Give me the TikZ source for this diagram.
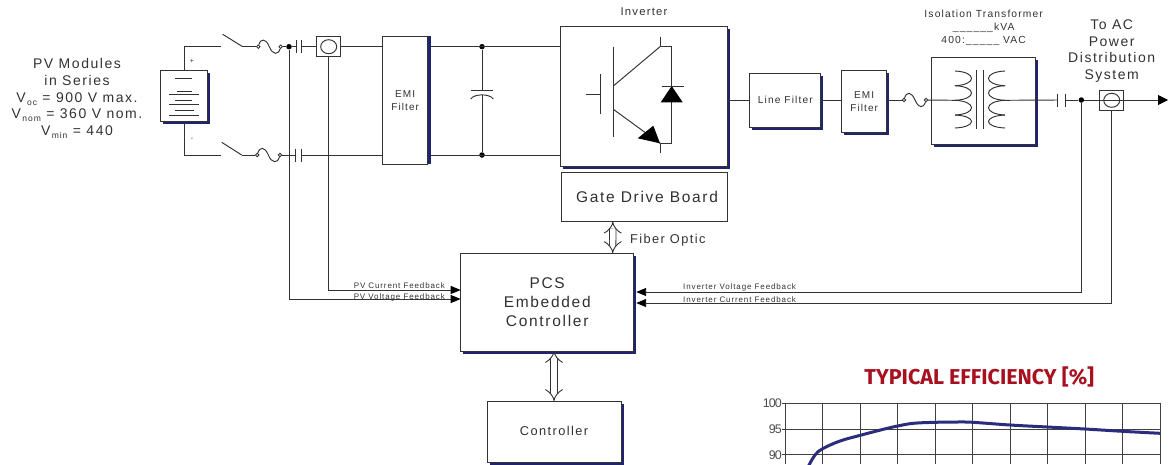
\documentclass[tikz,border=0pt]{standalone}
\usepackage{fontspec}
\setmainfont[LetterSpace=11]{Liberation Sans}
\newfontfamily\chartfont[LetterSpace=-8]{Liberation Sans}
\newfontfamily\headfont{Fira Sans}
\usepackage{tikz}
\definecolor{pvnavy}{RGB}{32,36,110}
\definecolor{pvcurve}{RGB}{43,44,124}
\definecolor{pvred}{RGB}{168,16,32}
\definecolor{pvwire}{RGB}{50,50,50}
\definecolor{pvtext}{RGB}{50,50,50}
\usetikzlibrary{arrows.meta,calc,shadows,shapes.geometric}
\newcommand{\subtxt}[1]{\smash{\raisebox{-3pt}{\fontsize{8.5}{8.5}\selectfont\,#1}}}
\tikzset{
  wire/.style={draw=pvwire, line width=0.95pt},
  feed/.style={wire, -{Triangle[length=10pt,width=8pt,fill=black,color=black]}},
  biarrow/.style={draw=pvwire, line width=0.9pt, double=white, double distance=5.5pt, {Implies}-{Implies}},
  pvbox/.style={draw=black!80, fill=white, line width=0.95pt, inner sep=0pt, outer sep=0pt, align=center, text=pvtext},
  navybox/.style={pvbox, general shadow={shadow xshift=2.5pt, shadow yshift=-2.5pt, fill=pvnavy, draw=none}},
  ctbox/.style={pvbox, minimum width=24pt, minimum height=20pt},
  ctring/.style={draw=black!80, ellipse, line width=0.95pt, inner sep=0pt, minimum width=16pt, minimum height=14pt},
  junction/.style={circle, fill=black, inner sep=0pt, minimum size=5.5pt},
  fuseend/.style={circle, draw=pvwire, fill=white, line width=0.8pt, inner sep=0pt, minimum size=3.5pt},
  lbl/.style={inner sep=0pt, align=center, text=pvtext},
  lblbig/.style={lbl, font=\fontsize{14}{16.6}\selectfont},
  lblmid/.style={lbl, font=\fontsize{11.3}{13}\selectfont},
  lbltiny/.style={lbl, font=\fontsize{8}{9}\selectfont},
  chartgrid/.style={draw=black!75, line width=0.95pt},
  charttick/.style={anchor=east, inner sep=0pt, text=black!70, font=\chartfont\fontsize{12.5}{14}\selectfont},
}
\begin{document}
\begin{tikzpicture}[x=1pt, y=-1pt]
  \useasboundingbox (0,0) rectangle (1172,464);

  % PV source side
  \node[lblbig] (pvtitle) at (77,97) {PV Modules\\in Series\\V\subtxt{oc} = 900 V max.\\V\subtxt{nom} = 360 V nom.\\V\subtxt{min} = 440};

  \node[navybox, minimum width=46.5pt, minimum height=51pt] (battery) at (184,95.5) {};
  \foreach \by/\bx/\bw in {78.7/175/17, 91/177/15, 94.7/169/30, 100/175/17, 104.7/169/30, 110.7/175/19, 115.3/169/30}
    \draw[wire] (\bx,\by) -- ++(\bw,0);
  \node[lbltiny, font=\fontsize{7}{7}\selectfont] (plus) at (192,61.7) {+};
  \node[lbltiny, font=\fontsize{7}{7}\selectfont] (minus) at (192,139) {-};

  % Main boxes
  \node[pvbox, minimum width=45pt, minimum height=128pt, font=\fontsize{10}{13}\selectfont] (emiA) at (405.2,100.2) {EMI\\Filter};
  \node[navybox, minimum width=166.7pt, minimum height=140.3pt] (inverter) at (644.3,96.8) {};
  \node[pvbox, minimum width=166.4pt, minimum height=49pt, font=\fontsize{15.5}{17}\selectfont] (gate) at (644.5,197.2) {\hspace{5pt}Gate Drive Board};
  \node[navybox, minimum width=173pt, minimum height=98pt, font=\fontsize{15.5}{19}\selectfont] (pcs) at (547.2,302) {PCS\\Embedded\\Controller};
  \node[navybox, minimum width=134pt, minimum height=61pt, font=\fontsize{12.8}{15}\selectfont] (ctrl) at (554,431.5) {\raisebox{2pt}{Controller}};
  \node[navybox, minimum width=70.7pt, minimum height=54pt, font=\fontsize{10.2}{12}\selectfont] (lineF) at (785.3,100.3) {Line Filter};
  \node[navybox, minimum width=45pt, minimum height=61.3pt, font=\fontsize{10}{13}\selectfont] (emiB) at (864.2,101.6) {EMI\\Filter};
  \node[navybox, minimum width=103.6pt, minimum height=87pt] (xfmr) at (983.5,100.8) {};

  % Current sensors
  \node[ctbox] (ctPV) at (328.7,46.7) {};
  \node[ctring] (ringPV) at (ctPV.center) {};
  \node[ctbox] (ctAC) at (1111.7,100.3) {};
  \node[ctring] (ringAC) at (ctAC.center) {};
  \draw[wire] (ctAC.west) -- (ctAC.east);

  % Junctions
  \node[junction] (dotPV) at (289,46.7) {};
  \node[junction] (dotCapT) at (482,46.7) {};
  \node[junction] (dotCapB) at (482,155) {};
  \node[junction] (dotAC) at (1081.3,100) {};

  % Fuses
  \foreach \name/\fa/\fb/\fy in {fuseT/258.3/280.7/46.7, fuseB/257.3/280/155, fuseR/904/926/100} {
    \node[fuseend] (\name L) at (\fa,\fy) {};
    \node[fuseend] (\name R) at (\fb,\fy) {};
    \draw[wire] (\name L) .. controls +(2.5,-8.5) and +(-3.5,-8.5) .. ++(11,0) .. controls +(3.5,8.5) and +(-2.5,8.5) .. (\name R);
  }

  % Switches
  \coordinate (swTa) at (220.7,46.7);
  \coordinate (swTb) at (242.7,46.7);
  \coordinate (swTc) at (222.7,34.3);
  \coordinate (swBa) at (220.7,155);
  \coordinate (swBb) at (241.7,155);
  \coordinate (swBc) at (221.7,142.3);
  \draw[wire] (swTc) -- (swTb);
  \draw[wire] (swBc) -- (swBb);

  % DC wiring
  \draw[wire] (battery.north) |- (swTa);
  \draw[wire] (battery.south) |- (swBa);
  \draw[wire] (swTb) -- (fuseTL);
  \draw[wire] (swBb) -- (fuseBL);
  \draw[wire] (fuseTR) -- (dotPV);

  % Series capacitors
  \coordinate (capTa) at (296,46.7);
  \coordinate (capTb) at (301,46.7);
  \coordinate (capBa) at (295.7,155);
  \coordinate (capBb) at (301,155);
  \coordinate (capRa) at (1057.7,100);
  \coordinate (capRb) at (1065,100);
  \foreach \cp in {capTa,capTb,capBa,capBb,capRa,capRb}
    \draw[wire] ([yshift=6.5pt]\cp) -- ([yshift=-6.5pt]\cp);
  \draw[wire] (dotPV) -- (capTa);
  \draw[wire] (capTb) -- (ctPV.west);
  \draw[wire] (fuseBR) -- (capBa);
  \draw[wire] (ctPV.east) -- (emiA.west |- ctPV.east);
  \draw[wire] (capBb) -- (emiA.west |- capBb);
  \draw[wire] (emiA.east |- dotCapT) -- (inverter.west |- dotCapT);
  \draw[wire] (emiA.east |- dotCapB) -- (inverter.west |- dotCapB);
  \fill[pvnavy] (emiA.north east) rectangle ++(3,128);

  % DC link capacitor
  \coordinate (linkA) at (482,90);
  \coordinate (linkB) at (482,95);
  \draw[wire] (dotCapT) -- (linkA);
  \draw[wire] (linkB) -- (dotCapB);
  \draw[wire] (470.7,90) -- (493.3,90);
  \draw[wire] (470.7,99) .. controls (474,93.5) and (490,93.5) .. (493.3,99);

  % IGBT and diode
  \draw[wire] (613.3,46.7) -- (613.3,137.3);
  \draw[wire] (600,74) -- (600,114);
  \draw[wire] (585.7,94) -- (600,94);
  \draw[wire] (613.3,86) -- (660,46.7);
  \draw[wire] (613.3,109.3) -- (660,143.3);
  \draw[wire] (660,37.3) -- (660,46.7) -- (671.7,46.7) -- (671.7,143.3) -- (660,143.3) -- (660,152.7);
  \fill[black] (660,143.3) -- (637.7,138.3) -- (653.3,125.7) -- cycle;
  \fill[black] (671.7,86) -- (660.7,102.3) -- (682.7,102.3) -- cycle;
  \draw[wire] (661.7,86) -- (684,86);

  % Transformer
  \draw[wire] (976,70) -- (976,129.3);
  \draw[wire] (983.3,70) -- (983.3,129.3);
  \foreach \cy/\ch in {71/14.7,85.7/14.6,100.3/14.7,115/13} {
    \draw[wire] (955,\cy) .. controls (977,\cy+1) and (977,\cy+\ch-1) .. (955,\cy+\ch);
    \draw[wire] (1005,\cy) .. controls (983,\cy+1) and (983,\cy+\ch-1) .. (1005,\cy+\ch);
  }
  \coordinate (coilL) at (955,100.3);
  \coordinate (coilR) at (1005,100.3);

  % AC wiring
  \draw[wire] (inverter.east |- lineF.west) -- (lineF.west);
  \draw[wire] (lineF.east) -- (emiB.west |- lineF.east);
  \draw[wire] (emiB.east |- fuseRL) -- (fuseRL);
  \draw[wire] (fuseRR) -- (coilL);
  \draw[wire] (coilR) -- (capRa);
  \draw[wire] (capRb) -- (dotAC);
  \draw[wire] (dotAC) -- (ctAC.west |- dotAC);
  \coordinate (acOut) at (1168,100);
  \draw[wire, -{Triangle[length=10pt,width=10pt,fill=black,color=black]}] (ctAC.east |- acOut) -- (acOut);

  % Feedback lines
  \draw[feed] (ctPV.south) |- ($(pcs.north west)+(0,37)$);
  \draw[feed] (dotPV) |- ($(pcs.north west)+(0,46)$);
  \draw[feed] (dotAC) |- ($(pcs.north east)+(2.5,39)$);
  \draw[feed] (ctAC.south) |- ($(pcs.north east)+(2.5,50)$);

  % Bidirectional links
  \draw[biarrow] ($(gate.south west)+(51.5,0)$) -- ($(pcs.north west)+(152,0)$);
  \draw[biarrow] (pcs.south -| ctrl.north) -- (ctrl.north);

  % Labels
  \node[lblmid] (invlabel) at (644,12) {Inverter};
  \node[lblmid, font=\fontsize{10.3}{13}\selectfont] (xfmrlabel) at (983.7,28) {Isolation Transformer\\\_\_\_\_\_\_kVA\\400:\_\_\_\_\_ VAC};
  \node[lblbig] (aclabel) at (1111.7,51) {To AC\\Power\\Distribution\\System};
  \node[lblbig, font=\fontsize{12.8}{15}\selectfont, anchor=west] (fiberlabel) at (630,240) {Fiber Optic};
  \node[lbltiny, anchor=east] (pvcur) at (445,286) {PV Current Feedback};
  \node[lbltiny, anchor=east] (pvvol) at (445,297) {PV Voltage Feedback};
  \node[lbltiny, anchor=west] (invvol) at (683,287) {Inverter Voltage Feedback};
  \node[lbltiny, anchor=west] (invcur) at (683,299.5) {Inverter Current Feedback};

  % Efficiency chart
  \node[inner sep=0pt, text=pvred, font=\headfont\bfseries\fontsize{21.5}{24}\selectfont] (charttitle) at (979.3,376.7) {TYPICAL EFFICIENCY [\%]};
  \foreach \gx in {0,...,10}
    \draw[chartgrid] ({785.3+37.47*\gx},403.3) -- ++(0,61);
  \foreach \val/\gy in {100/403.3,95/429,90/454.7} {
    \node[charttick] (tick\val) at (782,\gy) {\val};
    \draw[chartgrid] (tick\val.east) -- (1160,\gy);
  }
  \draw[pvcurve, line width=3pt] plot[smooth, tension=0.6] coordinates {(808,467) (815,455) (822.7,448.7) (840,441) (860.3,435.3) (883.3,429.3) (897.7,426) (913.3,423.3) (935.3,422.3) (956.7,422) (972.7,422.3) (1010,425) (1047.3,427) (1085,429) (1122.3,431.3) (1160,433.3)};
\end{tikzpicture}
\end{document}
